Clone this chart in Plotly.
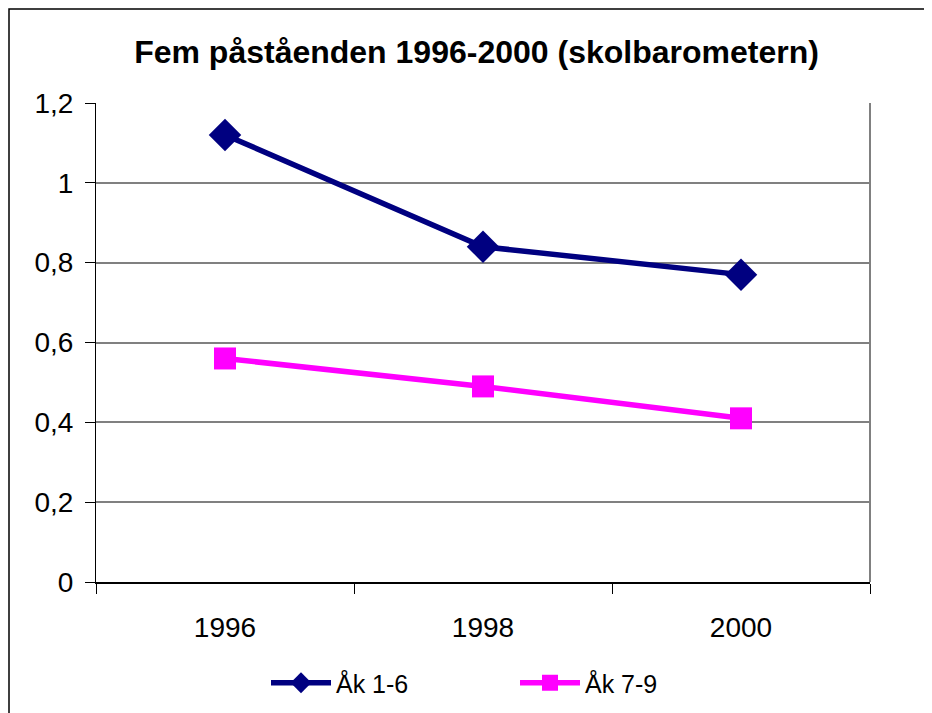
import plotly.graph_objects as go

title = "Fem påståenden 1996-2000 (skolbarometern)"
years = ["1996", "1998", "2000"]
series_names = ["Åk 1-6", "Åk 7-9"]
ak_1_6 = [1.12, 0.84, 0.77]
ak_7_9 = [0.56, 0.49, 0.41]

W, H = 932, 713
# page is offset by 8px body margin; layout coordinates below are figure-relative
ml, mr, mt, mb = 88, 70, 95, 139
pw, ph = W - ml - mr, H - mt - mb

font = "Liberation Sans, Arial, sans-serif"

fig = go.Figure()
fig.add_trace(go.Scatter(
    x=years, y=ak_1_6, name=series_names[0], mode="lines+markers",
    line=dict(color="#000080", width=5.5),
    marker=dict(symbol="diamond", size=25, color="#000080"),
))
fig.add_trace(go.Scatter(
    x=years, y=ak_7_9, name=series_names[1], mode="lines+markers",
    line=dict(color="#FF00FF", width=5.5),
    marker=dict(symbol="square", size=22, color="#FF00FF"),
))

# outer chart border (cropped at right/bottom) and gray right plot-area edge
fig.add_shape(type="rect", xref="paper", yref="paper",
              x0=(1 - ml) / pw, x1=(W + 20 - ml) / pw,
              y0=-(H + 20 - mt - ph) / ph, y1=(mt - 1) / ph + 1,
              line=dict(color="black", width=1.5), fillcolor="rgba(0,0,0,0)",
              layer="below")
fig.add_shape(type="line", xref="paper", yref="paper", x0=1, x1=1, y0=0, y1=1,
              line=dict(color="#808080", width=2), layer="below")

fig.update_layout(
    width=W, height=H,
    margin=dict(l=ml, r=mr, t=mt, b=mb),
    paper_bgcolor="white", plot_bgcolor="white",
    separators=", ",
    font=dict(family=font, color="black"),
    title=dict(text="<b>" + title + "</b>", x=468.5 / W, xanchor="center",
               y=1 - 44 / H, yanchor="middle", yref="container",
               font=dict(size=32, family=font, color="black")),
    showlegend=True,
    legend=dict(orientation="h", x=(258 - ml) / pw, xanchor="left",
                y=(mt + ph - 675) / ph, yanchor="middle",
                font=dict(size=25, family=font), itemwidth=60,
                entrywidth=174, entrywidthmode="pixels",
                bgcolor="rgba(0,0,0,0)"),
    xaxis=dict(type="category", range=[-0.5, 2.5], tickson="boundaries",
               ticks="outside", ticklen=10, tickcolor="black", tickwidth=1,
               showgrid=False, showline=True, linecolor="black", linewidth=2,
               ticklabelstandoff=19,
               tickfont=dict(size=28, family=font), zeroline=False),
    yaxis=dict(range=[0, 1.2], dtick=0.2, tick0=0, ticks="outside", ticklen=10,
               tickcolor="black", tickwidth=1, showline=True, linecolor="black",
               linewidth=1, showgrid=True, gridcolor="#808080", gridwidth=2,
               ticklabelstandoff=6,
               zeroline=False, tickfont=dict(size=28, family=font)),
)

fig.write_html("out.html")
